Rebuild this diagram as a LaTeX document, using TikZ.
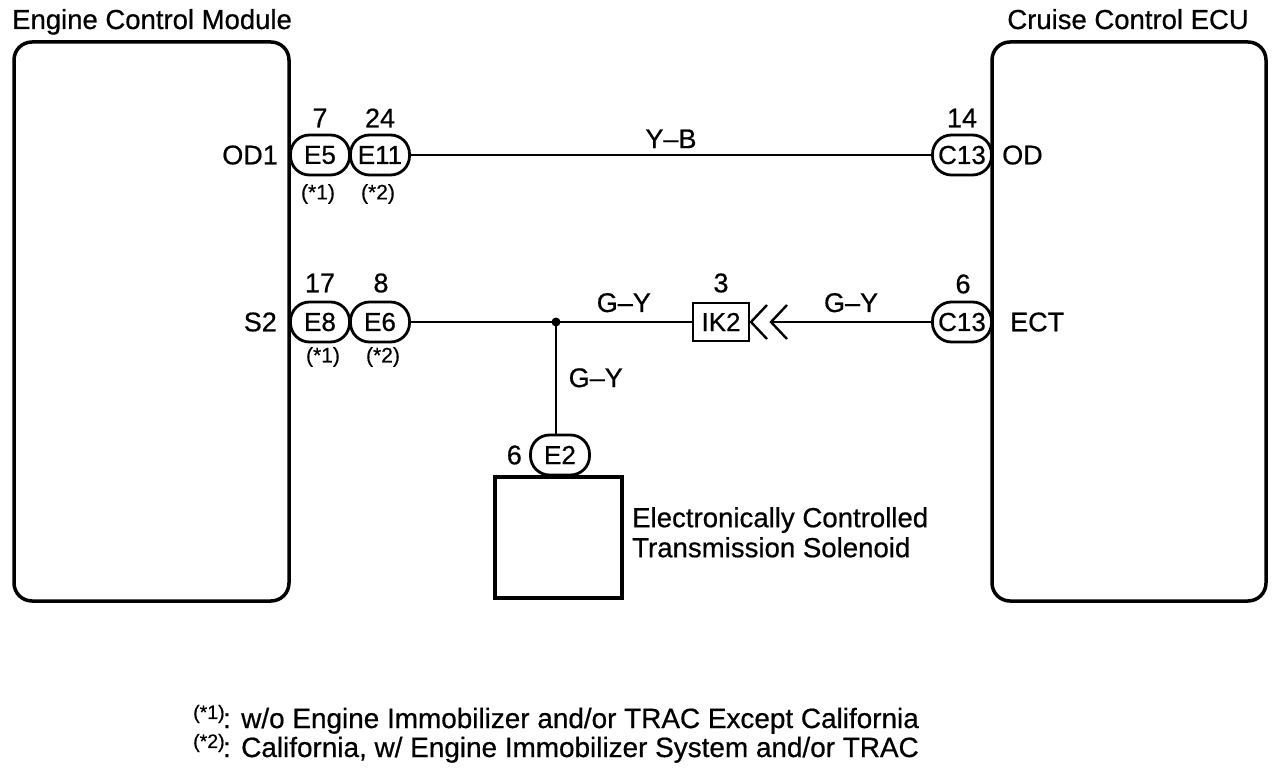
\documentclass[tikz,border=0pt]{standalone}
\usepackage{fontspec}
\setmainfont{Liberation Sans}[FakeBold=0.6]
\usetikzlibrary{calc}
\tikzset{
  unitbox/.style={draw, line width=3.5pt, rounded corners=18pt},
  pill/.style={draw, line width=2.8pt, rounded corners=19pt, minimum width=59pt, minimum height=40pt, inner sep=0pt, font=\fontsize{26}{28}\selectfont},
  wire/.style={line width=1.8pt},
  lbl/.style={inner sep=0pt, font=\fontsize{27}{30}\selectfont},
  small/.style={inner sep=0pt, font=\fontsize{21}{24}\selectfont},
  ttl/.style={inner sep=0pt, font=\fontsize{27.5}{30}\selectfont},
  note/.style={inner sep=0pt, font=\fontsize{27.9}{30}\selectfont},
}
\begin{document}
\begin{tikzpicture}[x=1pt,y=-1pt]
\useasboundingbox (0,0) rectangle (1280,776);
% units
\draw[unitbox] (14,42) rectangle (289,601);
\draw[unitbox] (992,42) rectangle (1266,601);
\node[ttl, anchor=base west] (ecm) at (12,29) {Engine Control Module};
\node[ttl, anchor=base east] (cc) at (1249,29) {Cruise Control ECU};
% left connectors row 1
\node[pill] (e5) at (320,155) {E5};
\node[pill] (e11) at (380,155) {E11};
\node[lbl] (n7) at (320,118) {7};
\node[lbl] (n24) at (380,118) {24};
\node[small] (f1a) at (318,194) {(*1)};
\node[small] (f2a) at (378,194) {(*2)};
\node[lbl, anchor=east] (od1) at (278,155) {OD1};
% left connectors row 2
\node[pill] (e8) at (320,322) {E8};
\node[pill] (e6) at (380,322) {E6};
\node[lbl] (n17) at (320,283) {17};
\node[lbl] (n8) at (381,283) {8};
\node[small] (f1b) at (323,357) {(*1)};
\node[small] (f2b) at (383,357) {(*2)};
\node[lbl, anchor=east] (s2) at (277,322) {S2};
% right connectors
\node[pill] (c13a) at (962,155) {C13};
\node[pill] (c13b) at (962,322) {C13};
\node[lbl] (n14) at (962,118) {14};
\node[lbl] (n6r) at (963,284) {6};
\node[lbl, anchor=west] (od) at (1002,155) {OD};
\node[lbl, anchor=west] (ect) at (1010,322) {ECT};
% IK2
\node[draw, line width=2.8pt, minimum width=56pt, minimum height=38pt, inner sep=0pt, font=\fontsize{26}{28}\selectfont] (ik2) at (721,322) {IK2};
\node[lbl] (n3) at (721,283) {3};
\coordinate (chev) at (771,322);
\draw[line width=2.4pt] (767,305) -- (751,322) -- (767,339);
\draw[line width=2.4pt] (787,305) -- (chev) -- (787,339);
% junction
\coordinate (jn) at (556,322);
\fill (jn) circle (4.5pt);
% E2 and solenoid
\node[pill] (e2) at (560,455) {E2};
\node[lbl, anchor=east] (n6b) at (522,455) {6};
\draw[line width=3.5pt] (495,477) rectangle (622,598);
\node[lbl, anchor=north west, align=left, font=\fontsize{27.6}{30}\selectfont] (sol) at (632,507) {Electronically Controlled\\Transmission Solenoid};
% wires
\draw[wire] (e11.east) -- node[lbl, above=6pt] {Y--B} (c13a.west);
\draw[wire, line width=1.5pt] (e6.east) -- (jn);
\draw[wire, line width=1.5pt] (jn) -- node[lbl, above=9pt] {G--Y} (ik2.west);
\draw[wire, line width=1.5pt] (chev) -- node[lbl, above=9pt] {G--Y} (c13b.west);
\draw[wire, line width=1.5pt] (jn) -- node[lbl, right=12pt] {G--Y} (e2.north -| jn);
% footnotes
\node[note, anchor=base west] (fn1) at (193,728) {\textsuperscript{(*1)}\kern-2pt: w/o Engine Immobilizer and/or TRAC Except California};
\node[note, anchor=base west] (fn2) at (193,757) {\textsuperscript{(*2)}\kern-2pt: California, w/ Engine Immobilizer System and/or TRAC};
\end{tikzpicture}
\end{document}
